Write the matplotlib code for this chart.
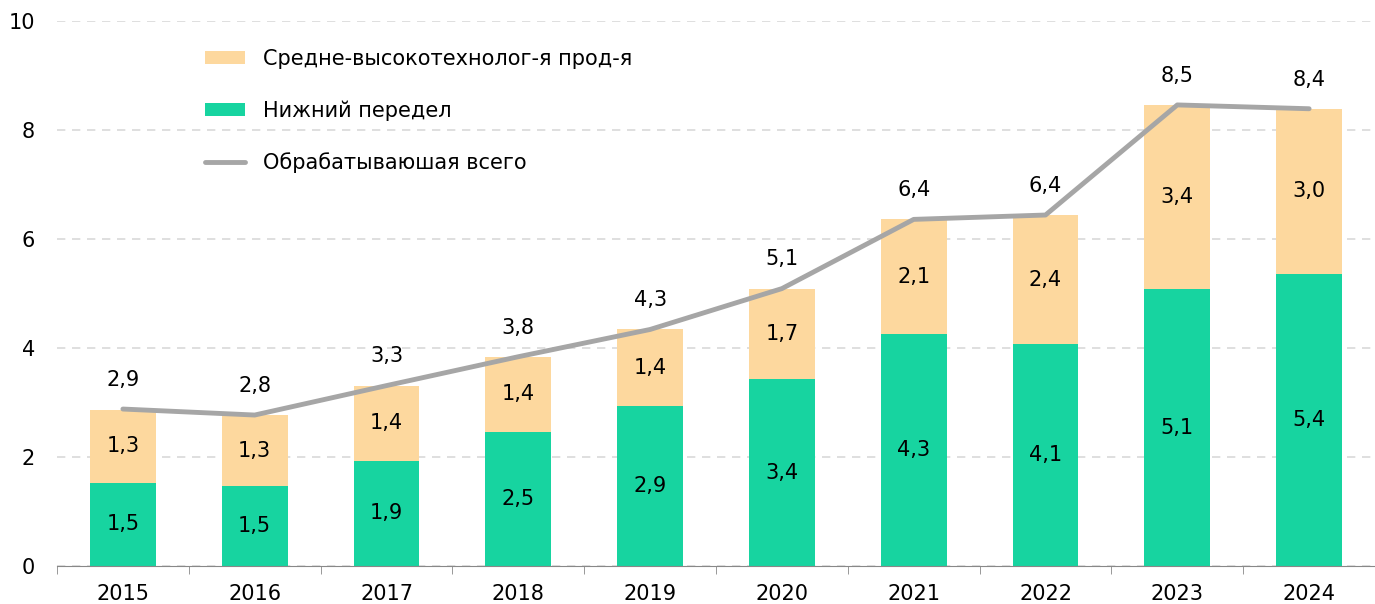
import numpy as np
import matplotlib
matplotlib.use("Agg")
import matplotlib.pyplot as plt

# данные
years = ["2015", "2016", "2017", "2018", "2019", "2020", "2021", "2022", "2023", "2024"]
nizhniy = [1.53, 1.46, 1.93, 2.46, 2.94, 3.43, 4.26, 4.07, 5.08, 5.36]
sredne = [1.34, 1.31, 1.38, 1.38, 1.40, 1.66, 2.10, 2.37, 3.38, 3.03]
vsego = [2.88, 2.77, 3.31, 3.84, 4.34, 5.09, 6.36, 6.44, 8.46, 8.39]

c_green = "#17D4A0"
c_tan = "#FDD89E"
c_gray = "#A6A6A6"

plt.rcParams['font.family'] = ['DejaVu Sans']
fs = 15

def fmt(v):
    return ("%.1f" % v).replace(".", ",")

fig = plt.figure(figsize=(13.75, 6.04), dpi=100)
ax = fig.add_axes([57/1375, 1 - 566/604, 1 - 57/1375, (566 - 21)/604])

x = np.arange(len(years))
b1 = ax.bar(x, nizhniy, width=0.5, color=c_green, label="Нижний передел", zorder=2)
b2 = ax.bar(x, sredne, width=0.5, bottom=nizhniy, color=c_tan,
            label="Средне-высокотехнолог-я прод-я", zorder=2)
ln, = ax.plot(x, vsego, color=c_gray, lw=3.5, solid_capstyle="round",
              label="Обрабатываюшая всего", zorder=3)

for i in range(len(years)):
    ax.text(x[i], nizhniy[i]/2, fmt(nizhniy[i]), ha="center", va="center", fontsize=fs, zorder=4)
    ax.text(x[i], nizhniy[i] + sredne[i]/2, fmt(sredne[i]), ha="center", va="center", fontsize=fs, zorder=4)
    ax.annotate(fmt(vsego[i]), (x[i], vsego[i]), xytext=(0, 21), textcoords="offset points",
                ha="center", va="center", fontsize=fs)

ax.set_xlim(-0.5, 9.44)
ax.set_ylim(0, 10)
ax.set_yticks([0, 2, 4, 6, 8, 10])
ax.set_xticks(x)
ax.set_xticklabels(years)
ax.set_xticks(np.arange(-0.5, 10, 1), minor=True)
ax.tick_params(axis="x", which="major", length=0, pad=13, labelsize=fs)
ax.tick_params(axis="x", which="minor", length=6, color="#888888")
ax.tick_params(axis="y", length=0, pad=16, labelsize=fs)

ax.grid(axis="y", color="#D9D9D9", linestyle=(0, (5, 4)), lw=1.2, zorder=0)
for s in ["top", "right", "left"]:
    ax.spines[s].set_visible(False)
ax.spines["bottom"].set_color("#888888")
ax.spines["bottom"].set_zorder(5)

leg = ax.legend(handles=[b2, b1, ln], loc="upper left",
                bbox_to_anchor=(205/1375, 1 - 49/604), bbox_transform=fig.transFigure,
                frameon=False, fontsize=fs, labelspacing=1.5, handlelength=1.92,
                handleheight=0.53, handletextpad=0.85, borderpad=0, borderaxespad=0)

fig.savefig("out.png", dpi=100)
